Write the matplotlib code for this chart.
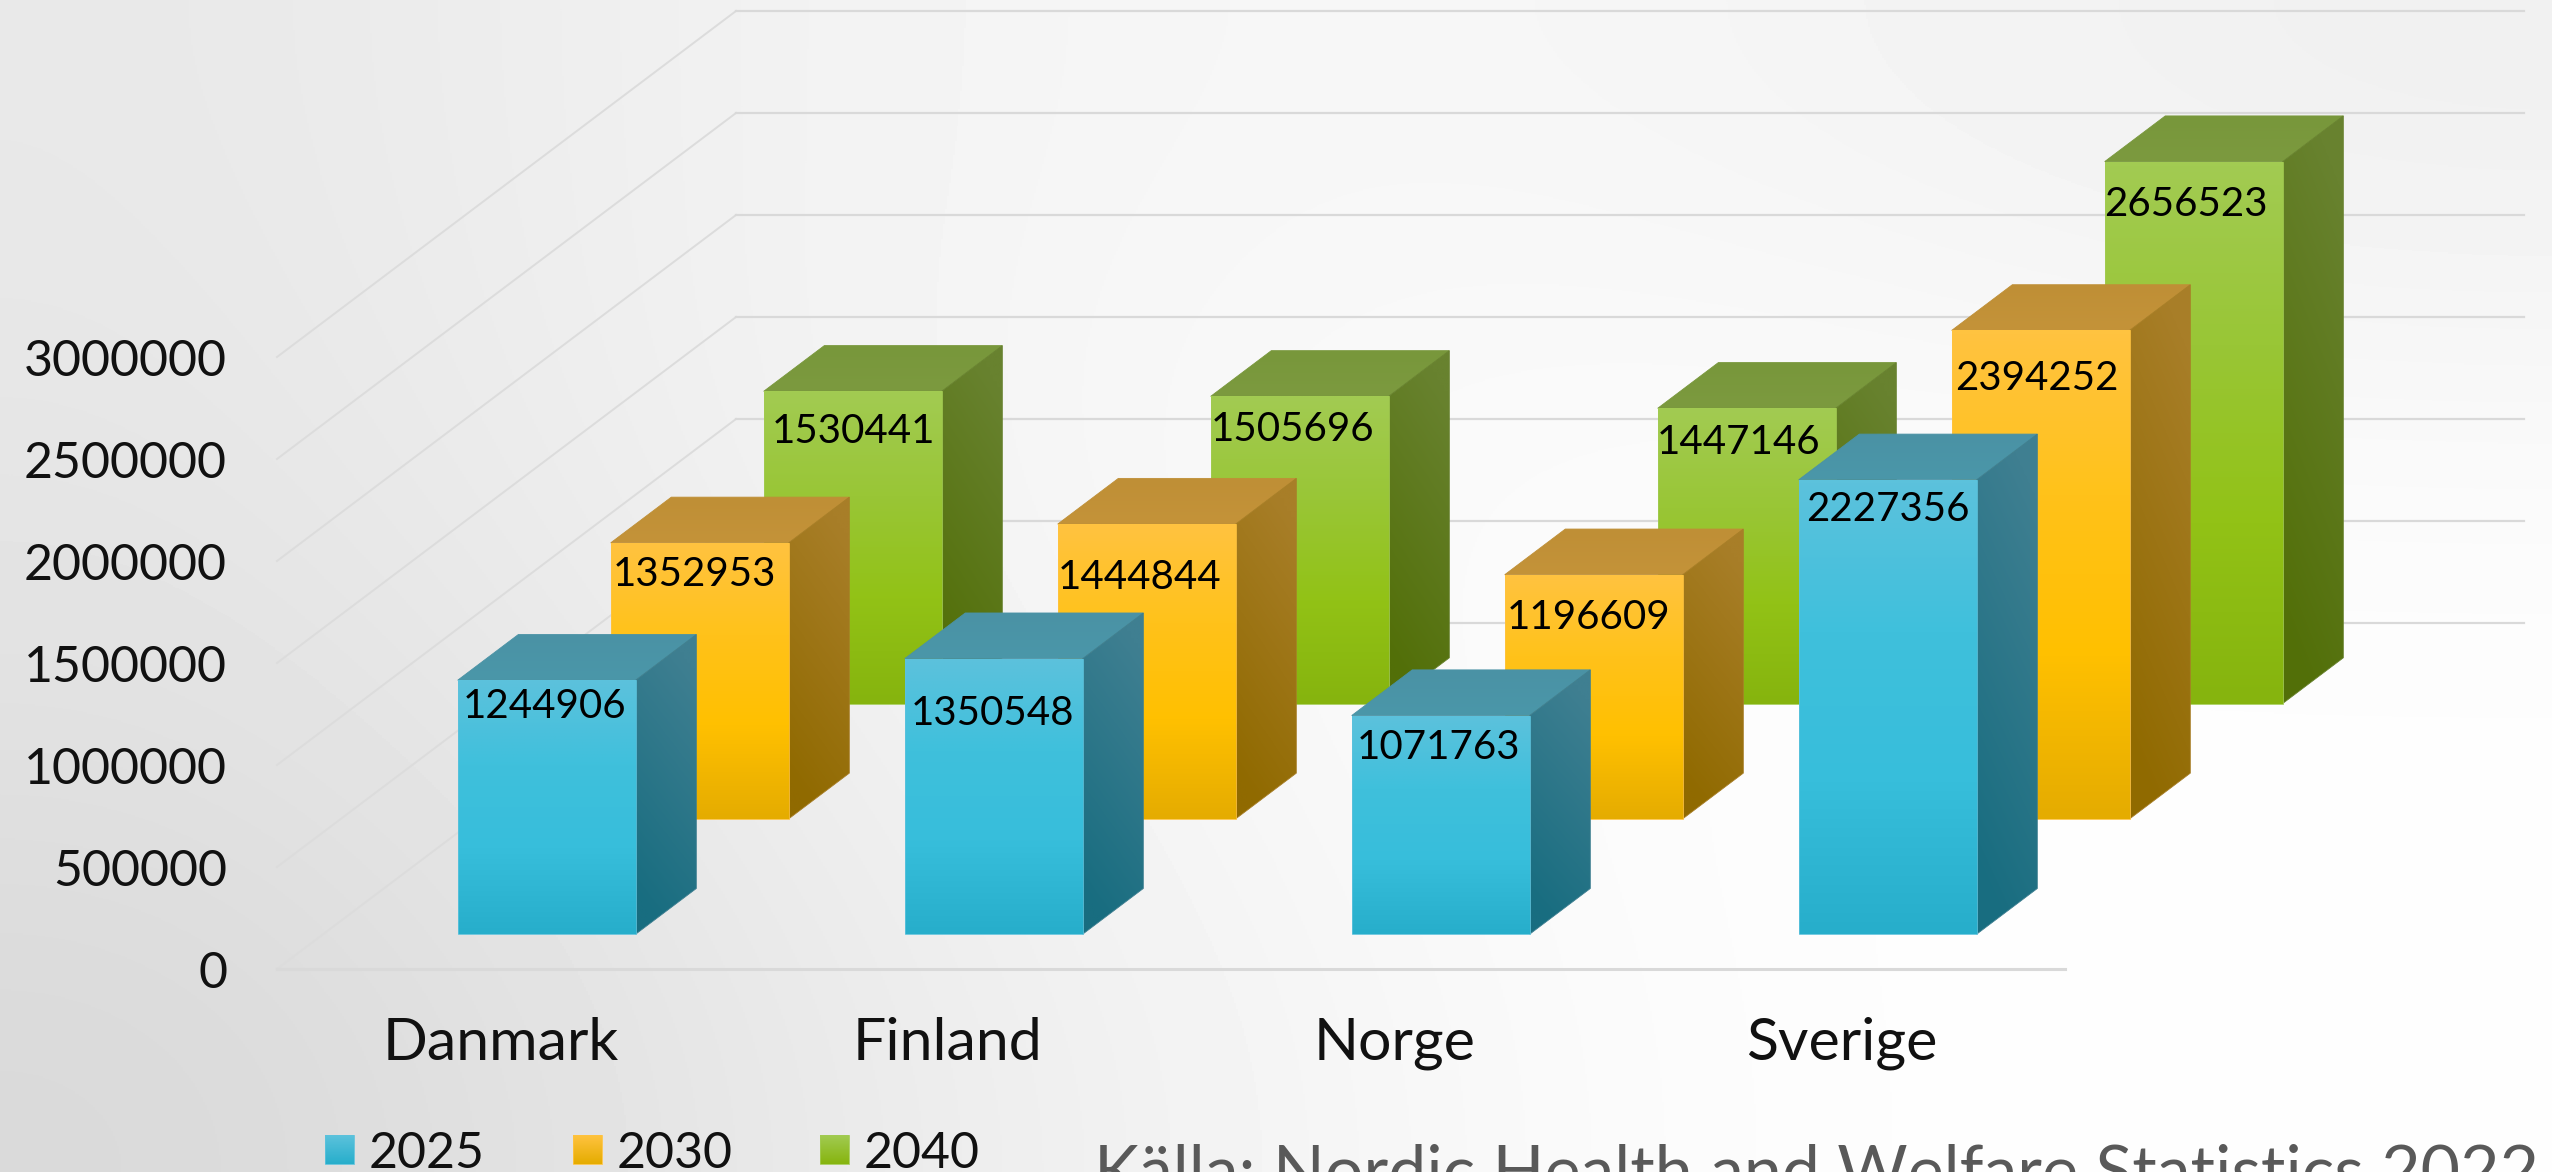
import numpy as np
import matplotlib as mpl
mpl.use('Agg')
import matplotlib.pyplot as plt
from matplotlib.colors import LinearSegmentedColormap
from matplotlib.patches import Polygon

plt.rcParams['font.family'] = ['Lato', 'DejaVu Sans']

countries = ["Danmark", "Finland", "Norge", "Sverige"]
years = ["2025", "2030", "2040"]
v2025 = [1244906, 1350548, 1071763, 2227356]
v2030 = [1352953, 1444844, 1196609, 2394252]
v2040 = [1530441, 1505696, 1447146, 2656523]
yticks = [0, 500000, 1000000, 1500000, 2000000, 2500000, 3000000]
source = "Källa: Nordic Health and Welfare Statistics 2022"

W, H = 2552, 1172
# oblique projection, all in image pixels
X0, Y0 = 277, 969        # front left corner of the floor
PLOT_W = 1788
DEPTH_X, DEPTH_Y = 459, 346
PX_PER_UNIT = 612 / 3000000
BAR_W = 178

colors = {
    "2025": dict(front=["#5cc2dc", "#3fc0dc", "#37bedb", "#27aecb"],
                 side=["#3f7f91", "#186d80"], top=["#4a92a5", "#4b97a9"],
                 swatch=["#5cc2dc", "#27aecb"]),
    "2030": dict(front=["#ffc340", "#ffc21a", "#ffc000", "#e5ac00"],
                 side=["#a87e28", "#906a00"], top=["#bf8f36", "#c49339"],
                 swatch=["#ffc340", "#e5ac00"]),
    "2040": dict(front=["#a2cb52", "#99c636", "#92c216", "#86b40e"],
                 side=["#68822f", "#526f08"], top=["#78973b", "#7c9a3f"],
                 swatch=["#a2cb52", "#86b40e"]),
}

# hand placed labels in the original, offset from top centre of the bar
label_dx = [[-2, -1, -2, 0], [-5, -7, -5, -4], [1, -7, -8, -8]]
label_dy = [[23, 51, 28, 26], [28, 50, 39, 45], [37, 30, 31, 39]]


def project(x, depth, v):
    # x: 0..1 across the floor, depth: 0..1 front to back, v: data value
    return (X0 + x * PLOT_W + depth * DEPTH_X,
            Y0 - depth * DEPTH_Y - v * PX_PER_UNIT)


def grad_poly(ax, pts, cols, z, slant=0.0):
    pts = np.array(pts)
    x0, y0 = pts.min(axis=0)
    x1, y1 = pts.max(axis=0)
    yy, xx = np.mgrid[0:1:128j, 0:1:16j]
    t = np.clip(yy - slant * (xx - 0.5), 0, 1)
    cmap = LinearSegmentedColormap.from_list("g", cols)
    im = ax.imshow(t, cmap=cmap, vmin=0, vmax=1, extent=(x0, x1, y1, y0),
                   aspect='auto', zorder=z, interpolation='bilinear')
    im.set_clip_path(Polygon(pts, closed=True, transform=ax.transData))
    ax.add_patch(Polygon(pts, closed=True, fill=False, ec=cols[0], lw=0.6, zorder=z))


fig = plt.figure(figsize=(W / 100, H / 100), dpi=100)
ax = fig.add_axes([0, 0, 1, 1])
ax.set_xlim(0, W)
ax.set_ylim(H, 0)
ax.set_autoscale_on(False)
ax.axis('off')

# background
bg = np.array([
    [0.91, 0.95, 0.97, 0.96, 0.94],
    [0.90, 0.95, 0.98, 0.985, 0.98],
    [0.88, 0.93, 0.975, 0.995, 0.995],
    [0.85, 0.91, 0.96, 0.995, 0.995],
])
ax.imshow(bg, cmap='gray', vmin=0, vmax=1, extent=(0, W, H, 0), aspect='auto',
          interpolation='bicubic', zorder=0)

# gridlines
for v in yticks:
    xa, ya = project(0, 0, v)
    xb, yb = project(0, 1, v)
    xc, yc = project(1, 1, v)
    ax.plot([xa, xb], [ya, yb], color="#dcdcdc", lw=1.4, zorder=1)
    ax.plot([xb, xc], [yb, yc], color="#d9d9d9", lw=1.6, zorder=1)
    ax.text(227, ya + 1, str(v), ha='right', va='center_baseline', fontsize=36, color="#111111", zorder=5)
xa, ya = project(0, 0, 0)
xb, yb = project(1, 0, 0)
ax.plot([xa, xb], [ya, yb], color="#d9d9d9", lw=2.2, zorder=1)

# bars, back row first
all_vals = [v2025, v2030, v2040]
cat_w = 1 / len(countries)
gap = (1 - BAR_W / (PLOT_W * cat_w)) / 2
z = 2
for s in [2, 1, 0]:
    cols = colors[years[s]]
    d0 = (s + 0.5 * (1 - 45.7 / 115.33)) / 3
    d1 = (s + 1 - 0.5 * (1 - 45.7 / 115.33)) / 3
    for c, val in enumerate(all_vals[s]):
        xl = (c + gap) * cat_w
        xr = xl + BAR_W / PLOT_W
        fbl = project(xl, d0, 0)
        fbr = project(xr, d0, 0)
        ftl = project(xl, d0, val)
        ftr = project(xr, d0, val)
        bbr = project(xr, d1, 0)
        btl = project(xl, d1, val)
        btr = project(xr, d1, val)
        grad_poly(ax, [ftl, ftr, btr, btl], cols["top"], z)
        grad_poly(ax, [ftr, btr, bbr, fbr], cols["side"], z, slant=0.25)
        grad_poly(ax, [ftl, ftr, fbr, fbl], cols["front"], z)
        ax.text((ftl[0] + ftr[0]) / 2 + label_dx[s][c], ftl[1] + label_dy[s][c], str(val),
                ha='center', va='center_baseline', fontsize=29, color="black", zorder=z + 0.5)
        z += 1

# category labels
for c, name in enumerate(countries):
    ax.text(X0 + (c + 0.5) * cat_w * PLOT_W, 1038, name, ha='center', va='center_baseline',
            fontsize=42.5, color="#111111", zorder=100)

# legend
for s, (lx, year) in enumerate(zip([325, 573, 820], years)):
    grad_poly(ax, [(lx, 1135), (lx + 29, 1135), (lx + 29, 1164), (lx, 1164)], colors[year]["swatch"], 100)
    ax.text(lx + 44, 1149, year, ha='left', va='center_baseline', fontsize=36, color="#111111", zorder=100)

# cut by the bottom edge in the original as well
ax.text(1094, 1194, source, ha='left', va='baseline', fontsize=49, color="#595959", zorder=100)

fig.savefig("out.png", dpi=100)
